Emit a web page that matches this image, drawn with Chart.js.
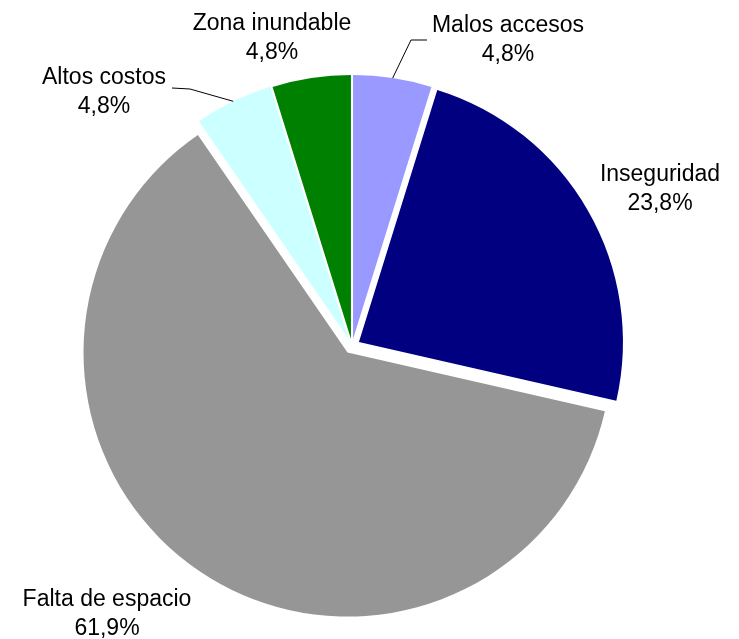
<!DOCTYPE html>
<html>
<head>
<meta charset="utf-8">
<script src="https://cdn.jsdelivr.net/npm/chart.js@4.4.1/dist/chart.umd.min.js"></script>
<style>
    body { margin: 0; background: #fff; }
    canvas { display: block; }
</style>
</head>
<body>
<canvas id="myPieChart" width="739" height="639"></canvas>
<script>
const labels = ['Malos accesos', 'Inseguridad', 'Falta de espacio', 'Altos costos', 'Zona inundable'];
const values = [4.8, 23.8, 61.9, 4.8, 4.8];
const colors = ['#9999FF', '#000080', '#969696', '#CCFFFF', '#008000'];

// how far each slice is pulled out from the centre (px)
const explode = [7, 8, 8, 8, 7];

// label anchors: centre x, baseline of first line, optional leader line (elbow, end)
const labelPos = [
    {x: 508, y: 32, leader: [[411, 40], [427, 40]]},
    {x: 660, y: 181},
    {x: 107, y: 606},
    {x: 104, y: 84, leader: [[190, 89], [172, 88]]},
    {x: 272, y: 30},
];

const explodePlugin = {
    id: 'explode_slices',
    beforeDatasetDraw: (chart, args) => {
        const ctx = chart.ctx;
        args.meta.data.forEach((arc, i) => {
            const mid = (arc.startAngle + arc.endAngle) / 2;
            ctx.save();
            ctx.translate(Math.cos(mid) * explode[i], Math.sin(mid) * explode[i]);
            arc.draw(ctx);
            ctx.restore();
        });
        return false;
    }
};

const labelPlugin = {
    id: 'pie_labels',
    afterDatasetsDraw: (chart) => {
        const ctx = chart.ctx;
        const arcs = chart.getDatasetMeta(0).data;
        ctx.save();
        ctx.font = '23px "Liberation Sans", Arial, sans-serif';
        ctx.fillStyle = '#000';
        ctx.textAlign = 'center';
        ctx.textBaseline = 'alphabetic';
        labelPos.forEach((p, i) => {
            ctx.fillText(labels[i], p.x, p.y);
            ctx.fillText(values[i].toFixed(1).replace('.', ',') + '%', p.x, p.y + 29);
            if (p.leader) {
                const arc = arcs[i];
                const mid = (arc.startAngle + arc.endAngle) / 2;
                const r = arc.outerRadius + explode[i];
                ctx.beginPath();
                ctx.moveTo(arc.x + Math.cos(mid) * r, arc.y + Math.sin(mid) * r);
                p.leader.forEach(pt => ctx.lineTo(pt[0], pt[1]));
                ctx.strokeStyle = '#000';
                ctx.lineWidth = 1;
                ctx.stroke();
            }
        });
        ctx.restore();
    }
};

const pie = document.getElementById('myPieChart');
const myPie = new Chart(pie, {
    type: 'pie',
    data: {
        labels: labels,
        datasets: [{
            data: values,
            backgroundColor: colors,
            borderWidth: 0,
        }],
    },
    options: {
        responsive: false,
        animation: false,
        radius: 264,
        layout: {
            padding: {left: 0, right: 35, top: 53, bottom: 0}
        },
        plugins: {
            legend: false,
            tooltip: {enabled: false},
        },
    },
    plugins: [explodePlugin, labelPlugin],
});
</script>
</body>
</html>
